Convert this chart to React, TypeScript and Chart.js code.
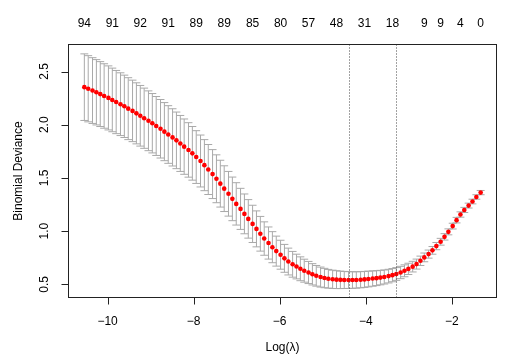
import React, { useEffect, useRef } from "react";
import { Chart, registerables } from "chart.js";

Chart.register(...registerables);

// log(lambda) of each fitted model (x positions)
const logLambda = [
  -10.54, -10.45, -10.35, -10.26, -10.17, -10.08, -9.98, -9.89, -9.8, -9.7,
  -9.61, -9.52, -9.42, -9.33, -9.24, -9.15, -9.05, -8.96, -8.87, -8.77,
  -8.68, -8.59, -8.49, -8.4, -8.31, -8.22, -8.12, -8.03, -7.94, -7.84,
  -7.75, -7.66, -7.56, -7.47, -7.38, -7.29, -7.19, -7.1, -7.01, -6.91,
  -6.82, -6.73, -6.63, -6.54, -6.45, -6.36, -6.26, -6.17, -6.08, -5.98,
  -5.89, -5.8, -5.7, -5.61, -5.52, -5.43, -5.33, -5.24, -5.15, -5.05,
  -4.96, -4.87, -4.77, -4.68, -4.59, -4.5, -4.4, -4.31, -4.22, -4.12,
  -4.03, -3.94, -3.84, -3.75, -3.66, -3.57, -3.47, -3.38, -3.29, -3.19,
  -3.1, -3.01, -2.91, -2.82, -2.73, -2.64, -2.54, -2.45, -2.36, -2.26,
  -2.17, -2.08, -1.98, -1.89, -1.8, -1.71, -1.61, -1.52, -1.43, -1.33,
];

// mean cross-validated binomial deviance
const cvMean = [
  2.353, 2.338, 2.321, 2.305, 2.288, 2.27, 2.252, 2.233, 2.213, 2.193,
  2.173, 2.151, 2.13, 2.107, 2.084, 2.061, 2.037, 2.014, 1.988, 1.962,
  1.935, 1.908, 1.881, 1.853, 1.824, 1.794, 1.763, 1.731, 1.696, 1.659,
  1.62, 1.579, 1.536, 1.492, 1.446, 1.399, 1.351, 1.303, 1.256, 1.209,
  1.162, 1.115, 1.068, 1.021, 0.975, 0.93, 0.888, 0.849, 0.812, 0.778,
  0.744, 0.714, 0.688, 0.667, 0.646, 0.628, 0.611, 0.594, 0.58, 0.568,
  0.559, 0.552, 0.547, 0.544, 0.542, 0.541, 0.54, 0.54, 0.541, 0.543,
  0.546, 0.55, 0.554, 0.558, 0.563, 0.569, 0.577, 0.586, 0.597, 0.611,
  0.627, 0.645, 0.666, 0.69, 0.721, 0.753, 0.784, 0.819, 0.859, 0.9,
  0.946, 0.993, 1.047, 1.103, 1.156, 1.199, 1.24, 1.278, 1.321, 1.362,
];

// standard error of the cross-validated deviance
const cvSD = [
  0.313, 0.311, 0.309, 0.307, 0.305, 0.303, 0.301, 0.299, 0.297, 0.295,
  0.293, 0.291, 0.289, 0.287, 0.285, 0.283, 0.281, 0.279, 0.277, 0.275,
  0.273, 0.271, 0.269, 0.266, 0.263, 0.26, 0.256, 0.252, 0.248, 0.244,
  0.24, 0.235, 0.23, 0.225, 0.22, 0.215, 0.21, 0.205, 0.199, 0.193,
  0.187, 0.181, 0.175, 0.169, 0.163, 0.157, 0.151, 0.146, 0.141, 0.136,
  0.131, 0.126, 0.121, 0.116, 0.112, 0.108, 0.104, 0.1, 0.097, 0.094,
  0.091, 0.088, 0.086, 0.084, 0.082, 0.08, 0.079, 0.078, 0.077, 0.076,
  0.075, 0.074, 0.072, 0.07, 0.068, 0.066, 0.064, 0.062, 0.06, 0.058,
  0.056, 0.053, 0.05, 0.047, 0.044, 0.041, 0.038, 0.036, 0.034, 0.032,
  0.03, 0.028, 0.027, 0.026, 0.025, 0.024, 0.023, 0.022, 0.021, 0.02,
];

// number of non-zero coefficients shown along the top
const nonzeroLabels = ["94", "91", "92", "91", "89", "89", "85", "80", "57", "48", "31", "18", "9", "9", "4", "0"];
const nonzeroAt = [-10.54, -9.89, -9.24, -8.59, -7.94, -7.29, -6.63, -5.98, -5.33, -4.68, -4.03, -3.38, -2.64, -2.26, -1.8, -1.33];

const xTicks = [-10, -8, -6, -4, -2];
const yTicks = [0.5, 1.0, 1.5, 2.0, 2.5];
const yTickLabels = ["0.5", "1.0", "1.5", "2.0", "2.5"];

const lambdaMinLog = -4.4;
const lambda1seLog = -3.29;

const xTitle = "Log(\u03BB)";
const yTitle = "Binomial Deviance";

const FONT = '12px "Liberation Sans", Arial, Helvetica, sans-serif';

const rPlot = {
  id: "rPlot",
  beforeDatasetsDraw(chart: any) {
    const { ctx, scales } = chart;
    const x = scales.x;
    const y = scales.y;
    const barw = (logLambda[logLambda.length - 1] - logLambda[0]) * 0.01;
    ctx.save();
    ctx.strokeStyle = "#A9A9A9";
    ctx.lineWidth = 1;
    for (let i = 0; i < logLambda.length; i++) {
      const px = x.getPixelForValue(logLambda[i]);
      const up = y.getPixelForValue(cvMean[i] + cvSD[i]);
      const lo = y.getPixelForValue(cvMean[i] - cvSD[i]);
      const l = x.getPixelForValue(logLambda[i] - barw);
      const r = x.getPixelForValue(logLambda[i] + barw);
      ctx.beginPath();
      ctx.moveTo(px, up);
      ctx.lineTo(px, lo);
      ctx.moveTo(l, up);
      ctx.lineTo(r, up);
      ctx.moveTo(l, lo);
      ctx.lineTo(r, lo);
      ctx.stroke();
    }
    ctx.restore();
  },
  afterDatasetsDraw(chart: any) {
    const { ctx, scales, chartArea } = chart;
    const x = scales.x;
    const y = scales.y;
    ctx.save();
    // dotted reference lines
    ctx.strokeStyle = "#444";
    ctx.lineWidth = 1;
    ctx.setLineDash([1, 2]);
    [lambdaMinLog, lambda1seLog].forEach((v) => {
      const px = Math.round(x.getPixelForValue(v)) + 0.5;
      ctx.beginPath();
      ctx.moveTo(px, chartArea.top);
      ctx.lineTo(px, chartArea.bottom);
      ctx.stroke();
    });
    ctx.setLineDash([]);
    // box
    ctx.strokeStyle = "#222";
    ctx.strokeRect(chartArea.left, chartArea.top, chartArea.right - chartArea.left, chartArea.bottom - chartArea.top);
    // tick marks
    ctx.beginPath();
    xTicks.forEach((t) => {
      const px = Math.round(x.getPixelForValue(t)) + 0.5;
      ctx.moveTo(px, chartArea.bottom);
      ctx.lineTo(px, chartArea.bottom + 7);
    });
    yTicks.forEach((t) => {
      const py = Math.round(y.getPixelForValue(t)) + 0.5;
      ctx.moveTo(chartArea.left, py);
      ctx.lineTo(chartArea.left - 7, py);
    });
    ctx.stroke();
    // texts
    ctx.fillStyle = "#000";
    ctx.font = FONT;
    ctx.textAlign = "center";
    ctx.textBaseline = "alphabetic";
    xTicks.forEach((t) => {
      const px = x.getPixelForValue(t);
      ctx.fillText(String(t).replace("-", "\u2212"), px, 325);
    });
    nonzeroAt.forEach((v, i) => {
      ctx.fillText(nonzeroLabels[i], x.getPixelForValue(v), 27);
    });
    ctx.fillText(xTitle, (chartArea.left + chartArea.right) / 2, 351);
    yTicks.forEach((t, i) => {
      const py = y.getPixelForValue(t);
      ctx.save();
      ctx.translate(48, py);
      ctx.rotate(-Math.PI / 2);
      ctx.fillText(yTickLabels[i], 0, 0);
      ctx.restore();
    });
    ctx.save();
    ctx.translate(22, (chartArea.top + chartArea.bottom) / 2);
    ctx.rotate(-Math.PI / 2);
    ctx.fillText(yTitle, 0, 0);
    ctx.restore();
    ctx.restore();
  },
};

export default function App() {
  const ref = useRef<HTMLCanvasElement | null>(null);
  useEffect(() => {
    if (!ref.current) return;
    const chart = new Chart(ref.current, {
      type: "scatter",
      data: {
        datasets: [
          {
            data: logLambda.map((v, i) => ({ x: v, y: cvMean[i] })),
            backgroundColor: "#FF0000",
            borderColor: "#FF0000",
            borderWidth: 0,
            pointRadius: 2.3,
            pointHoverRadius: 2.3,
          },
        ],
      },
      options: {
        responsive: false,
        animation: false,
        events: [],
        layout: { padding: { left: 0, right: 8.5, top: 44.5, bottom: 0 } },
        plugins: { legend: { display: false }, tooltip: { enabled: false }, title: { display: false } },
        scales: {
          x: {
            type: "linear",
            position: "bottom",
            min: -10.908,
            max: -0.962,
            ticks: { display: false },
            grid: { display: false },
            border: { display: false },
            afterFit: (s: any) => {
              s.height = 61.5;
            },
          },
          y: {
            type: "linear",
            position: "left",
            min: 0.376,
            max: 2.754,
            ticks: { display: false },
            grid: { display: false },
            border: { display: false },
            afterFit: (s: any) => {
              s.width = 68.5;
            },
          },
        },
      },
      plugins: [rPlot],
    });
    return () => chart.destroy();
  }, []);
  return (
    <div style={{ position: "fixed", left: 0, top: 0, width: 505, height: 359, background: "#fff" }}>
      <canvas ref={ref} width={505} height={359} style={{ display: "block" }} />
    </div>
  );
}
